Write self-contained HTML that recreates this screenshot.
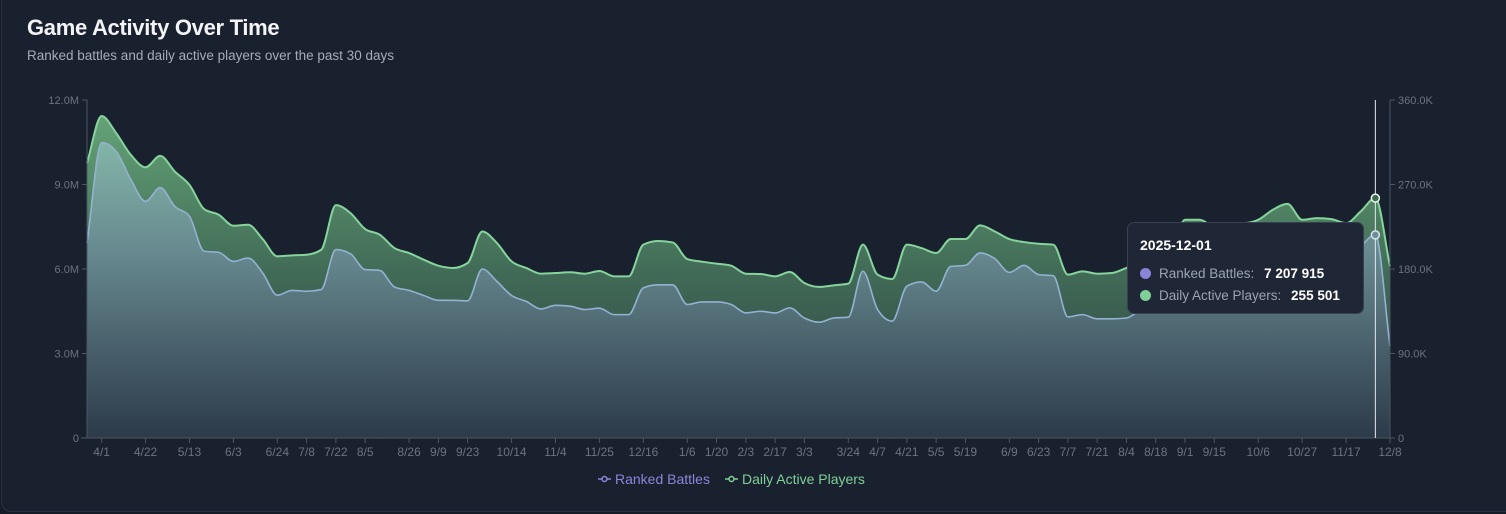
<!DOCTYPE html>
<html><head><meta charset="utf-8">
<style>
html,body{margin:0;padding:0;background:#151c28;}
body{width:1506px;height:514px;overflow:hidden;font-family:"Liberation Sans",sans-serif;}
.card{position:absolute;left:1px;top:-10px;width:1520px;height:520px;background:#19212f;border:1px solid #283142;border-radius:10px;}
h1{position:absolute;left:27px;top:15px;margin:0;font-size:22px;font-weight:bold;color:#f3f4f6;letter-spacing:-0.3px;}
.sub{position:absolute;left:27px;top:48px;font-size:13.5px;color:#a3acba;}
svg{position:absolute;left:0;top:0;}
.tip{position:absolute;left:1127px;top:222px;width:237px;height:92px;background:#1f2736;border:1px solid #374152;border-radius:7px;box-sizing:border-box;color:#fff;}
.tip .t{position:absolute;left:12px;top:14px;font-size:14px;font-weight:bold;}
.row{position:absolute;left:12px;font-size:13.5px;color:#9aa3b1;white-space:nowrap;}
.row b{color:#fff;margin-left:6px;}
.dot{display:inline-block;width:11px;height:11px;border-radius:50%;margin-right:8px;vertical-align:-1px;}
</style></head>
<body>
<div class="card"></div>
<h1>Game Activity Over Time</h1>
<div class="sub">Ranked battles and daily active players over the past 30 days</div>
<svg id="chart" width="1506" height="514"></svg>
<div class="tip">
  <div class="t">2025-12-01</div>
  <div class="row" style="top:43px"><span class="dot" style="background:#8b85d9"></span>Ranked Battles: <b>7 207 915</b></div>
  <div class="row" style="top:65px"><span class="dot" style="background:#7fcf98"></span>Daily Active Players: <b>255 501</b></div>
</div>
<script>
const startDate = "2024-03-25";
const rankedBattles = [6.92,10.49,10.17,9.17,8.40,8.89,8.22,7.87,6.63,6.59,6.27,6.39,5.86,5.07,5.24,5.21,5.27,6.69,6.54,5.98,5.95,5.36,5.24,5.06,4.89,4.89,4.87,6.00,5.56,5.06,4.85,4.58,4.71,4.68,4.56,4.61,4.38,4.38,5.33,5.44,5.44,4.74,4.83,4.83,4.74,4.44,4.50,4.44,4.62,4.26,4.11,4.26,4.29,5.92,4.56,4.15,5.39,5.54,5.21,6.09,6.13,6.57,6.37,5.88,6.13,5.80,5.76,4.30,4.38,4.23,4.23,4.26,4.56,4.68,4.91,5.98,6.09,5.86,6.09,6.15,6.27,6.69,6.80,6.33,6.39,6.33,6.21,6.80,7.21,3.26];
const dailyActive = [292.7,343.0,324.6,301.5,288.4,300.5,283.8,269.6,243.8,237.8,226.1,227.1,211.9,193.5,194.5,195.2,200.5,248.0,239.5,222.5,216.5,202.3,197.0,189.9,183.5,181.1,186.4,220.0,207.6,188.1,181.1,175.0,175.7,176.5,175.0,177.9,172.2,172.2,205.9,209.8,208.3,190.6,187.8,185.7,183.5,175.0,174.7,172.2,176.8,165.1,160.9,162.6,164.4,205.9,174.0,169.4,205.9,202.3,197.0,211.9,211.9,226.4,220.0,211.9,208.7,206.9,205.9,174.0,177.5,175.0,175.7,181.1,186.4,189.9,197.0,232.4,232.4,225.4,228.9,228.9,232.4,243.1,249.4,232.4,234.2,233.1,228.9,241.3,255.5,182.8];
const xTickLabels = ["4/1","4/22","5/13","6/3","6/24","7/8","7/22","8/5","8/26","9/9","9/23","10/14","11/4","11/25","12/16","1/6","1/20","2/3","2/17","3/3","3/24","4/7","4/21","5/5","5/19","6/9","6/23","7/7","7/21","8/4","8/18","9/1","9/15","10/6","10/27","11/17","12/8"];
const leftTicks = [0,3,6,9,12];
const leftTickLabels = ["0","3.0M","6.0M","9.0M","12.0M"];
const rightTicks = [0,90,180,270,360];
const rightTickLabels = ["0","90.0K","180.0K","270.0K","360.0K"];
const hoverIndex = 88;

const X0=87,X1=1390,Y0=438,Y1=100;
const n = rankedBattles.length;
const xs = i => X0 + (X1-X0)*i/(n-1);
const yL = v => Y0 - (Y0-Y1)*v/12;
const yR = v => Y0 - (Y0-Y1)*v/360;
const NS="http://www.w3.org/2000/svg";
const svg=document.getElementById('chart');
function mk(tag,attrs,parent){const e=document.createElementNS(NS,tag);for(const k in attrs)e.setAttribute(k,attrs[k]);(parent||svg).appendChild(e);return e;}

function monotone(pts){
  const m=pts.length, d=[], t=[];
  for(let i=0;i<m-1;i++) d.push((pts[i+1][1]-pts[i][1])/(pts[i+1][0]-pts[i][0]));
  t[0]=d[0]; t[m-1]=d[m-2];
  for(let i=1;i<m-1;i++){ if(d[i-1]*d[i]<=0) t[i]=0; else { const h0=pts[i][0]-pts[i-1][0],h1=pts[i+1][0]-pts[i][0]; const s=(d[i-1]*h1+d[i]*h0)/(h0+h1); t[i]=Math.sign(s)*Math.min(Math.abs(s),2*Math.abs(d[i-1]),2*Math.abs(d[i])); } }
  let p="M"+pts[0][0]+","+pts[0][1];
  for(let i=0;i<m-1;i++){const h=(pts[i+1][0]-pts[i][0])/3;
    p+="C"+(pts[i][0]+h)+","+(pts[i][1]+h*t[i])+" "+(pts[i+1][0]-h)+","+(pts[i+1][1]-h*t[i+1])+" "+pts[i+1][0]+","+pts[i+1][1];}
  return p;
}

const defs=mk('defs',{});
const g1=mk('linearGradient',{id:'gGreen',x1:0,y1:Y1,x2:0,y2:Y0,gradientUnits:'userSpaceOnUse'},defs);
mk('stop',{offset:'0',  'stop-color':'#68a87a'},g1);
mk('stop',{offset:'0.5','stop-color':'#426c57'},g1);
mk('stop',{offset:'1',  'stop-color':'#2a3b40'},g1);
const g2=mk('linearGradient',{id:'gBlue',x1:0,y1:Y1,x2:0,y2:Y0,gradientUnits:'userSpaceOnUse'},defs);
mk('stop',{offset:'0',  'stop-color':'#8ec6b1'},g2);
mk('stop',{offset:'0.45','stop-color':'#67898f'},g2);
mk('stop',{offset:'1',  'stop-color':'#2c3a4a'},g2);

const gp=dailyActive.map((v,i)=>[xs(i),yR(v)]);
const bp=rankedBattles.map((v,i)=>[xs(i),yL(v)]);
const gLine=monotone(gp), bLine=monotone(bp);
const ga=mk('path',{d:gLine+"L"+X1+","+Y0+"L"+X0+","+Y0+"Z",fill:'url(#gGreen)'});


const ba=mk('path',{d:bLine+"L"+X1+","+Y0+"L"+X0+","+Y0+"Z",fill:'url(#gBlue)'});


const gl=mk('path',{d:gLine,fill:'none',stroke:'#86d49c','stroke-width':2});


const bl=mk('path',{d:bLine,fill:'none',stroke:'#93b2d2','stroke-width':1.6});



const axc='#4b5563', tc='#6b7280';
const la=mk('line',{x1:X0,y1:Y1,x2:X0,y2:Y0,stroke:axc});


const ra=mk('line',{x1:X1,y1:Y1,x2:X1,y2:Y0,stroke:axc});


const xa=mk('line',{x1:X0-6,y1:Y0,x2:X1,y2:Y0,stroke:axc});


leftTicks.forEach((v,k)=>{const y=yL(v);
  mk('line',{x1:X0-5,y1:y,x2:X0,y2:y,stroke:axc});
  const t=mk('text',{x:X0-8,y:y+4,'text-anchor':'end','font-size':11,fill:tc});t.textContent=leftTickLabels[k];
  
  });
rightTicks.forEach((v,k)=>{const y=yR(v);
  mk('line',{x1:X1,y1:y,x2:X1+5,y2:y,stroke:axc});
  const t=mk('text',{x:X1+8,y:y+4,'font-size':11,fill:tc});t.textContent=rightTickLabels[k];
  
  });
const sd=new Date(startDate+"T00:00:00Z");
const lab=[];for(let i=0;i<n;i++){const d=new Date(sd.getTime()+i*7*864e5);lab.push((d.getUTCMonth()+1)+"/"+d.getUTCDate());}
let from=0;
xTickLabels.forEach(l=>{const i=lab.indexOf(l,from);if(i<0)return;from=i+1;const x=xs(i);
  mk('line',{x1:x,y1:Y0,x2:x,y2:Y0+5,stroke:axc});
  const t=mk('text',{x:x,y:Y0+18,'text-anchor':'middle','font-size':12,fill:tc});t.textContent=l;
  
  });

const hx=xs(hoverIndex);
const hl=mk('line',{x1:hx,y1:Y1,x2:hx,y2:Y0,stroke:'#e5e7eb','stroke-width':1});


const hd1=mk('circle',{cx:hx,cy:yR(dailyActive[hoverIndex]),r:4,fill:'#3f6b55',stroke:'#e8f5ec','stroke-width':1.5});


const hd2=mk('circle',{cx:hx,cy:yL(rankedBattles[hoverIndex]),r:4,fill:'#6f8f98',stroke:'#d9e4ea','stroke-width':1.5});



const lg=mk('g',{});


function entry(x,color,label,name){const g=mk('g',{},lg);
  
  
  mk('line',{x1:x,y1:479,x2:x+13,y2:479,stroke:color,'stroke-width':1.5},g);
  mk('circle',{cx:x+6.5,cy:479,r:2.5,fill:'#19212f',stroke:color,'stroke-width':1.5},g);
  const t=mk('text',{x:x+17,y:484,'font-size':14,fill:color},g);t.textContent=label;}
entry(598,'#8b85d9','Ranked Battles','legend-ranked-battles');
entry(725,'#7fcf98','Daily Active Players','legend-daily-active-players');
</script>
</body></html>
